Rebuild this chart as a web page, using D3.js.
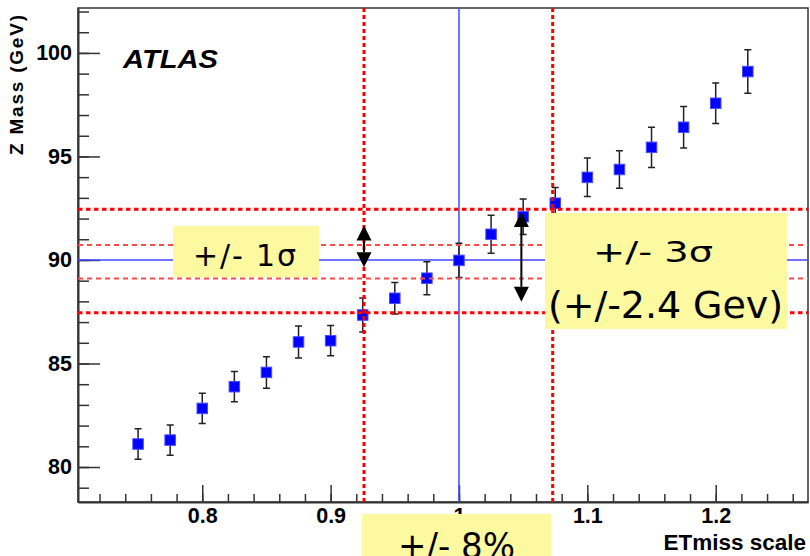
<!DOCTYPE html>
<html>
<head>
<meta charset="utf-8">
<script src="https://cdn.jsdelivr.net/npm/d3@7/dist/d3.min.js"></script>
<style>
  html, body { margin: 0; padding: 0; background: #fff; }
  svg { display: block; }
</style>
</head>
<body>
<svg id="chart" width="810" height="556"></svg>
<script>
// ETmiss scale scan: fitted Z mass for each scale factor
const scaleFactors = [0.75, 0.775, 0.8, 0.825, 0.85, 0.875, 0.9, 0.925, 0.95, 0.975,
                      1.0, 1.025, 1.05, 1.075, 1.1, 1.125, 1.15, 1.175, 1.2, 1.225];
const zMass = [81.11, 81.30, 82.83, 83.88, 84.57, 86.04, 86.10, 87.34, 88.15, 89.12,
               89.98, 91.24, 92.09, 92.74, 93.99, 94.37, 95.44, 96.41, 97.57, 99.10];
const zMassErr = [0.74, 0.73, 0.73, 0.73, 0.76, 0.77, 0.73, 0.82, 0.76, 0.80,
                  0.83, 0.92, 0.86, 0.76, 0.93, 0.90, 0.97, 1.00, 0.98, 1.05];

// Tick labels
const xTickValues = [0.8, 0.9, 1.0, 1.1, 1.2];
const xTickLabels = ["0.8", "0.9", "1", "1.1", "1.2"];
const yTickValues = [80, 85, 90, 95, 100];
const yTickLabels = ["80", "85", "90", "95", "100"];

// Reference lines
const nominalScale = 1.0;
const nominalMass = 90.0;
const scaleBand = [0.926, 1.073];        // +/- 8% window in scale
const oneSigmaBand = [89.10, 90.72];     // +/- 1 sigma in mass
const threeSigmaBand = [87.45, 92.45];   // +/- 3 sigma in mass

// Double-headed arrows: [scale, massLow, massHigh]
const arrowSpecs = [[0.926, 89.65, 91.66], [1.0486, 87.98, 92.32]];

const svg = d3.select("#chart");
const L = 78, R = 808, T = 8, B = 502;

const x = d3.scaleLinear().domain([0.7032, 1.2719]).range([L, R]);
const y = d3.scaleLinear().domain([78.31, 102.17]).range([B, T]);

const axisFont = "'Liberation Sans', Arial, Helvetica, sans-serif";
const noteFont = "'DejaVu Sans', Verdana, sans-serif";

// Frame
svg.append("rect")
  .attr("x", L).attr("y", T).attr("width", R - L).attr("height", B - T)
  .attr("fill", "none").attr("stroke", "#333").attr("stroke-width", 1.5);

// Minor ticks
svg.append("g").attr("transform", `translate(${L},0)`)
  .call(d3.axisLeft(y).tickValues(d3.range(79, 103, 1)).tickSize(-11).tickSizeOuter(0).tickFormat(""))
  .call(g => g.select(".domain").remove());
svg.append("g").attr("transform", `translate(0,${B})`)
  .call(d3.axisBottom(x).tickValues(d3.range(36, 64, 1).map(v => v / 50)).tickSize(-8).tickSizeOuter(0).tickFormat(""))
  .call(g => g.select(".domain").remove());

// Major ticks and labels
const yAxis = svg.append("g").attr("transform", `translate(${L},0)`)
  .call(d3.axisLeft(y).tickValues(yTickValues).tickSize(-22).tickSizeOuter(0).tickPadding(6)
    .tickFormat((d, i) => yTickLabels[i]));
const xAxis = svg.append("g").attr("transform", `translate(0,${B})`)
  .call(d3.axisBottom(x).tickValues(xTickValues).tickSize(-17).tickSizeOuter(0).tickPadding(6)
    .tickFormat((d, i) => xTickLabels[i]));

svg.selectAll(".tick line").attr("stroke", "#333").attr("stroke-width", 1.5);
[xAxis, yAxis].forEach(a => {
  a.attr("font-family", axisFont).attr("font-size", 21.5);
  a.select(".domain").attr("stroke", "#333").attr("stroke-width", 2);
  a.selectAll("text").attr("font-family", axisFont).attr("font-weight", "bold")
    .attr("font-size", 21.5).attr("fill", "#000");
});

// Axis titles
svg.append("text")
  .attr("transform", "translate(23,15) rotate(-90)")
  .attr("text-anchor", "end")
  .attr("font-family", axisFont).attr("font-weight", "bold").attr("font-size", 19)
  .attr("textLength", 140).attr("lengthAdjust", "spacing")
  .text("Z Mass (GeV)");
svg.append("text")
  .attr("x", 806).attr("y", 550)
  .attr("text-anchor", "end")
  .attr("font-family", axisFont).attr("font-weight", "bold").attr("font-size", 22.5)
  .text("ETmiss scale");

// Experiment label
svg.append("text")
  .attr("x", 123).attr("y", 68)
  .attr("font-family", axisFont).attr("font-weight", "bold").attr("font-style", "italic")
  .attr("font-size", 26).attr("textLength", 95).attr("lengthAdjust", "spacingAndGlyphs")
  .text("ATLAS");

// Nominal blue lines
const blue = "#4545ff";
svg.append("line")
  .attr("x1", L).attr("x2", R).attr("y1", y(nominalMass)).attr("y2", y(nominalMass))
  .attr("stroke", blue).attr("stroke-width", 1.5);
svg.append("line")
  .attr("x1", x(nominalScale)).attr("x2", x(nominalScale)).attr("y1", T).attr("y2", B)
  .attr("stroke", blue).attr("stroke-width", 1.5);

// Data points with error bars
const pts = scaleFactors.map((s, i) => ({ s, m: zMass[i], e: zMassErr[i] }));
const pg = svg.append("g");
pg.selectAll("line.err").data(pts).join("line").attr("class", "err")
  .attr("x1", d => x(d.s)).attr("x2", d => x(d.s))
  .attr("y1", d => y(d.m - d.e)).attr("y2", d => y(d.m + d.e))
  .attr("stroke", "#222").attr("stroke-width", 1.5);
pg.selectAll("path.cap").data(pts).join("path").attr("class", "cap")
  .attr("d", d => {
    const cx = x(d.s), lo = y(d.m - d.e), hi = y(d.m + d.e);
    return `M${cx - 3.5},${hi}H${cx + 3.5}M${cx - 3.5},${lo}H${cx + 3.5}`;
  })
  .attr("stroke", "#222").attr("stroke-width", 1.5).attr("fill", "none");
pg.selectAll("rect.mk").data(pts).join("rect").attr("class", "mk")
  .attr("x", d => x(d.s) - 5.25).attr("y", d => y(d.m) - 5.25)
  .attr("width", 10.5).attr("height", 10.5)
  .attr("fill", "#0000ff").attr("stroke", "#4a4aff").attr("stroke-width", 1);

// Red reference lines
const lg = svg.append("g");
oneSigmaBand.forEach(m => lg.append("line")
  .attr("x1", L).attr("x2", R).attr("y1", y(m)).attr("y2", y(m))
  .attr("stroke", "#ff4a4a").attr("stroke-width", 2).attr("stroke-dasharray", "5,4"));
threeSigmaBand.forEach(m => lg.append("line")
  .attr("x1", L).attr("x2", R).attr("y1", y(m)).attr("y2", y(m))
  .attr("stroke", "#ff0000").attr("stroke-width", 3).attr("stroke-dasharray", "4.5,3.5"));
scaleBand.forEach(s => lg.append("line")
  .attr("x1", x(s)).attr("x2", x(s)).attr("y1", T).attr("y2", B)
  .attr("stroke", "#ff0000").attr("stroke-width", 3).attr("stroke-dasharray", "4,3"));

// Double-headed arrows
const ag = svg.append("g");
arrowSpecs.forEach(([s, lo, hi]) => {
  const cx = x(s), yt = y(hi), yb = y(lo), hw = 7.5, hl = 15;
  ag.append("line").attr("x1", cx).attr("x2", cx).attr("y1", yt + hl).attr("y2", yb - hl)
    .attr("stroke", "#000").attr("stroke-width", 2);
  ag.append("path").attr("d", `M${cx},${yt}L${cx - hw},${yt + hl}L${cx + hw},${yt + hl}Z`).attr("fill", "#000");
  ag.append("path").attr("d", `M${cx},${yb}L${cx - hw},${yb - hl}L${cx + hw},${yb - hl}Z`).attr("fill", "#000");
});

// Annotation boxes
const boxFill = "#fcf9a0";
function noteBox(bx, by, bw, bh) {
  svg.append("rect").attr("x", bx).attr("y", by).attr("width", bw).attr("height", bh).attr("fill", boxFill);
}
function note(tx, ty, size, width, adjust, str) {
  svg.append("text").attr("x", tx).attr("y", ty)
    .attr("font-family", noteFont).attr("font-size", size)
    .attr("textLength", width).attr("lengthAdjust", adjust)
    .attr("fill", "#000")
    .text(str);
}
noteBox(173, 226, 146, 51);
note(193, 266, 30, 103, "spacing", "+/- 1σ");

noteBox(545, 213, 242, 116);
note(593, 262, 27.5, 120, "spacingAndGlyphs", "+/- 3σ");
note(548, 318, 38, 235, "spacing", "(+/-2.4 Gev)");

noteBox(362, 514, 189, 50);
note(398, 558, 35, 117, "spacingAndGlyphs", "+/- 8%");
</script>
</body>
</html>
